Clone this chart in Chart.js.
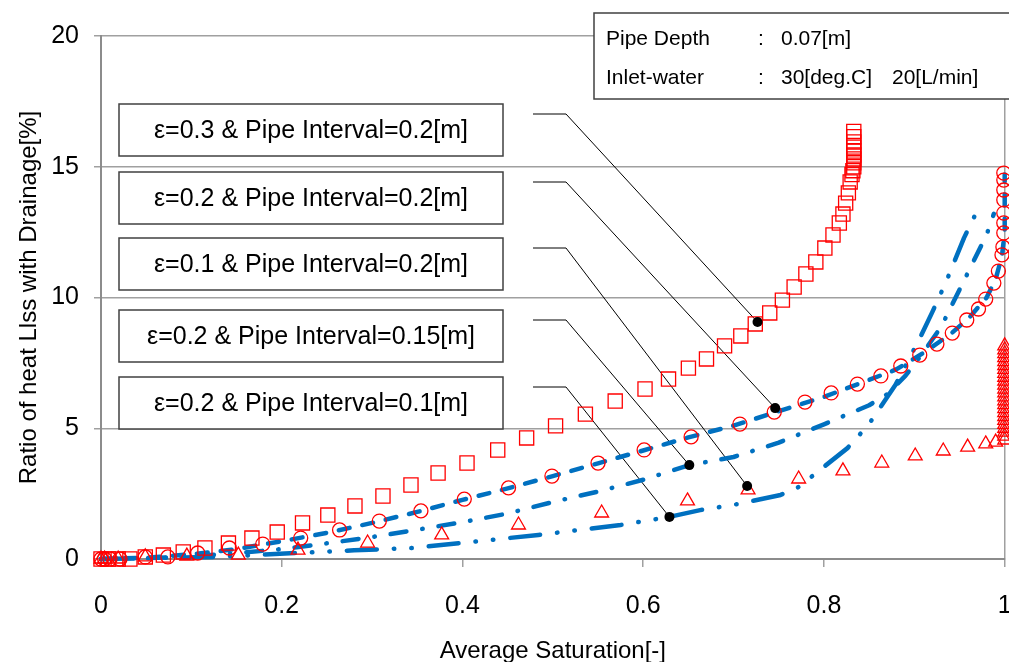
<!DOCTYPE html>
<html>
<head>
<meta charset="utf-8">
<script src="https://cdn.jsdelivr.net/npm/chart.js@4"></script>
<style>
  html, body { margin: 0; padding: 0; background: #fff; overflow: hidden; }
  canvas { display: block; }
</style>
</head>
<body>
<canvas id="myChart" width="1016" height="662"></canvas>
<script>
// eps=0.3, interval 0.2 (squares)
const sat03 = [0, 0.008, 0.019, 0.032, 0.049, 0.069, 0.091, 0.115, 0.141, 0.167, 0.195, 0.223, 0.251, 0.281, 0.312, 0.343, 0.373, 0.405, 0.439, 0.471, 0.503, 0.536, 0.569, 0.602, 0.628, 0.650, 0.670, 0.690, 0.708, 0.724, 0.740, 0.754, 0.767, 0.780, 0.791, 0.801, 0.810, 0.817, 0.821, 0.824, 0.827, 0.829, 0.831, 0.832, 0.833, 0.833, 0.833, 0.833, 0.833, 0.833, 0.833, 0.833, 0.833];
const ratio03 = [0, 0, 0, 0, 0.08, 0.15, 0.27, 0.42, 0.61, 0.80, 1.03, 1.38, 1.68, 2.03, 2.41, 2.83, 3.29, 3.67, 4.17, 4.63, 5.09, 5.54, 6.04, 6.50, 6.88, 7.30, 7.65, 8.15, 8.53, 8.99, 9.41, 9.90, 10.40, 10.90, 11.36, 11.89, 12.39, 12.85, 13.19, 13.61, 14.00, 14.42, 14.70, 14.85, 15.00, 15.15, 15.30, 15.45, 15.60, 15.75, 15.95, 16.15, 16.35];

// eps=0.2, interval 0.2 (circles)
const sat02 = [0, 0.004, 0.010, 0.021, 0.049, 0.074, 0.107, 0.142, 0.179, 0.221, 0.264, 0.308, 0.354, 0.402, 0.451, 0.499, 0.550, 0.601, 0.653, 0.707, 0.745, 0.779, 0.808, 0.837, 0.863, 0.885, 0.906, 0.925, 0.942, 0.958, 0.971, 0.979, 0.988, 0.993, 0.997, 0.998, 0.999, 0.999, 0.999, 0.999, 0.999, 0.999, 0.999];
const ratio02 = [0, 0, 0, 0, 0.08, 0.08, 0.23, 0.42, 0.57, 0.80, 1.11, 1.45, 1.84, 2.29, 2.72, 3.17, 3.67, 4.17, 4.67, 5.16, 5.62, 6.00, 6.35, 6.69, 7.00, 7.38, 7.80, 8.22, 8.64, 9.14, 9.56, 9.94, 10.55, 11.01, 11.63, 11.93, 12.47, 12.85, 13.23, 13.73, 14.11, 14.49, 14.76];

// eps=0.1, interval 0.2 (triangles)
const sat01 = [0, 0.004, 0.019, 0.049, 0.095, 0.152, 0.218, 0.295, 0.377, 0.462, 0.554, 0.649, 0.716, 0.772, 0.821, 0.864, 0.901, 0.932, 0.959, 0.979, 0.990, 1, 1, 1, 1, 1, 1, 1, 1, 1, 1, 1, 1, 1, 1, 1, 1, 1, 1, 1, 1, 1, 1, 1, 1, 1];
const ratio01 = [0, 0, 0, 0.08, 0.11, 0.15, 0.34, 0.61, 0.92, 1.30, 1.76, 2.22, 2.64, 3.06, 3.37, 3.67, 3.94, 4.13, 4.28, 4.40, 4.47, 4.55, 4.70, 4.85, 5.00, 5.15, 5.30, 5.45, 5.60, 5.75, 5.90, 6.05, 6.20, 6.35, 6.50, 6.65, 6.80, 6.95, 7.10, 7.25, 7.40, 7.55, 7.70, 7.85, 8.00, 8.15];

// blue lines
const satLine02 = [0, 0.05, 0.1, 0.15, 0.2, 0.25, 0.3, 0.35, 0.4, 0.45, 0.5, 0.55, 0.6, 0.65, 0.7, 0.75, 0.8, 0.85, 0.88, 0.91, 0.94, 0.96, 0.98, 0.99, 0.997, 1.0, 1.0];
const ratioLine02 = [0, 0.05, 0.18, 0.38, 0.68, 1.0, 1.38, 1.8, 2.26, 2.7, 3.17, 3.66, 4.15, 4.65, 5.1, 5.65, 6.2, 6.85, 7.25, 7.88, 8.6, 9.2, 10.0, 10.7, 11.6, 12.5, 14.7];

const satLine015 = [0, 0.05, 0.1, 0.15, 0.2, 0.25, 0.3, 0.348, 0.4, 0.45, 0.5, 0.55, 0.6, 0.651, 0.7, 0.75, 0.8, 0.85, 0.87, 0.89, 0.91, 0.93, 0.95, 0.96, 0.97, 0.98, 0.988];
const ratioLine015 = [0, 0.03, 0.1, 0.22, 0.38, 0.6, 0.84, 1.11, 1.41, 1.74, 2.18, 2.58, 3.03, 3.59, 3.9, 4.45, 5.15, 5.88, 6.3, 7.0, 7.9, 8.9, 10.3, 11.0, 11.7, 12.4, 13.2];

const satLine01 = [0, 0.128, 0.217, 0.28, 0.344, 0.398, 0.484, 0.575, 0.629, 0.663, 0.700, 0.752, 0.769, 0.783, 0.826, 0.849, 0.879, 0.905, 0.920, 0.935, 0.955, 0.971];
const ratioLine01 = [0, 0.08, 0.23, 0.33, 0.42, 0.61, 0.92, 1.30, 1.61, 1.87, 2.07, 2.45, 2.68, 3.06, 4.24, 5.12, 6.65, 8.37, 9.45, 10.59, 12.28, 13.42];

// callouts
const calloutLabels = [
  "ε=0.3 & Pipe Interval=0.2[m]",
  "ε=0.2 & Pipe Interval=0.2[m]",
  "ε=0.1 & Pipe Interval=0.2[m]",
  "ε=0.2 & Pipe Interval=0.15[m]",
  "ε=0.2 & Pipe Interval=0.1[m]",
];
const calloutSat = [0.7265, 0.746, 0.715, 0.651, 0.629];
const calloutRatio = [9.06, 5.77, 2.79, 3.59, 1.61];

const xTicks = [0, 0.2, 0.4, 0.6, 0.8, 1];
const yTicks = [0, 5, 10, 15, 20];

const FONT = "'Liberation Sans', Arial, sans-serif";
const RED = "rgb(255,0,0)";
const BLUE = "rgb(0,112,192)";

const toPoints = (xs, ys) => xs.map((x, i) => ({ x: x, y: ys[i] }));

const markerSet = (label, xs, ys, style, radius, order) => ({
  label: label,
  data: toPoints(xs, ys),
  pointStyle: style,
  pointRadius: radius,
  pointBorderColor: RED,
  pointBackgroundColor: "rgba(0,0,0,0)",
  pointBorderWidth: 1.3,
  showLine: false,
  clip: false,
  order: order,
});

const lineSet = (label, xs, ys, dash, order) => ({
  label: label,
  data: toPoints(xs, ys),
  showLine: true,
  pointRadius: 0,
  borderColor: BLUE,
  borderWidth: 4.5,
  borderDash: dash,
  borderCapStyle: "round",
  borderJoinStyle: "round",
  tension: 0,
  clip: false,
  order: order,
});

const boxTops = [104, 172, 238, 310, 377];
const leaderY = [114, 182, 248, 320, 387];

const overlay = {
  id: "overlay",
  beforeDatasetsDraw(chart) {
    const ctx = chart.ctx;
    const xs = chart.scales.x, ys = chart.scales.y;
    ctx.save();
    ctx.strokeStyle = "#000";
    ctx.lineWidth = 1;
    calloutSat.forEach((s, i) => {
      ctx.beginPath();
      ctx.moveTo(533, leaderY[i]);
      ctx.lineTo(566, leaderY[i]);
      ctx.lineTo(xs.getPixelForValue(s), ys.getPixelForValue(calloutRatio[i]));
      ctx.stroke();
    });
    ctx.restore();
  },
  afterDraw(chart) {
    const ctx = chart.ctx;
    const area = chart.chartArea;
    ctx.save();
    // label boxes
    ctx.font = "25px " + FONT;
    ctx.textAlign = "center";
    ctx.textBaseline = "middle";
    calloutLabels.forEach((t, i) => {
      ctx.fillStyle = "#fff";
      ctx.fillRect(119, boxTops[i], 384, 52);
      ctx.strokeStyle = "#404040";
      ctx.lineWidth = 1.5;
      ctx.strokeRect(119, boxTops[i], 384, 52);
      ctx.fillStyle = "#000";
      ctx.fillText(t, 311, boxTops[i] + 27);
    });
    // info box
    ctx.fillStyle = "#fff";
    ctx.fillRect(594, 13, 430, 86);
    ctx.strokeStyle = "#404040";
    ctx.strokeRect(594, 13, 430, 86);
    ctx.fillStyle = "#000";
    ctx.font = "21px " + FONT;
    ctx.textAlign = "left";
    ctx.fillText("Pipe Depth", 606, 39);
    ctx.fillText(":", 758, 39);
    ctx.fillText("0.07[m]", 781, 39);
    ctx.fillText("Inlet-water", 606, 78);
    ctx.fillText(":", 758, 78);
    ctx.fillText("30[deg.C]", 781, 78);
    ctx.fillText("20[L/min]", 892, 78);
    // axis titles
    ctx.font = "24px " + FONT;
    ctx.textAlign = "center";
    ctx.fillText("Average Saturation[-]", (area.left + area.right) / 2, 651);
    ctx.translate(29, (area.top + area.bottom) / 2);
    ctx.rotate(-Math.PI / 2);
    ctx.fillText("Ratio of heat Llss with Drainage[%]", 0, 0);
    ctx.restore();
  },
};

const data = {
  datasets: [
    {
      label: "callout",
      data: toPoints(calloutSat, calloutRatio),
      pointRadius: 5,
      pointBackgroundColor: "#000",
      pointBorderColor: "#000",
      pointBorderWidth: 0,
      showLine: false,
      clip: false,
      order: 0,
    },
    markerSet(calloutLabels[0], sat03, ratio03, "rect", 10, 1),
    markerSet(calloutLabels[1], sat02, ratio02, "circle", 7, 2),
    markerSet(calloutLabels[2], sat01, ratio01, "triangle", 8, 3),
    lineSet("line 0.2", satLine02, ratioLine02, [11, 13], 4),
    lineSet("line 0.15", satLine015, ratioLine015, [16, 16, 0.5, 16], 5),
    lineSet("line 0.1", satLine01, ratioLine01, [30, 17, 0.5, 17, 0.5, 17], 6),
  ],
};

const options = {
  responsive: false,
  animation: false,
  devicePixelRatio: 1,
  layout: { padding: { top: 36, right: 5, left: 0, bottom: 0 } },
  plugins: {
    legend: { display: false },
    tooltip: { enabled: false },
  },
  scales: {
    x: {
      type: "linear",
      min: 0,
      max: 1,
      afterBuildTicks: (s) => { s.ticks = xTicks.map((v) => ({ value: v })); },
      ticks: {
        color: "#000",
        font: { family: FONT, size: 25 },
        padding: 24,
        maxRotation: 0,
        callback: (v) => String(Number(v.toFixed(1))),
      },
      grid: {
        color: (c) => (c.tick && c.tick.value === 1 ? "#a0a0a0" : "rgba(0,0,0,0)"),
        tickColor: "#a0a0a0",
        lineWidth: 1.5,
        tickLength: 8,
      },
      border: { color: "#8c8c8c", width: 2 },
      afterFit: (s) => { s.height = 103; s.paddingLeft = 0; s.paddingRight = 0; },
    },
    y: {
      type: "linear",
      min: 0,
      max: 20,
      afterBuildTicks: (s) => { s.ticks = yTicks.map((v) => ({ value: v })); },
      ticks: {
        color: "#000",
        font: { family: FONT, size: 25 },
        padding: 15,
      },
      grid: {
        color: "#a0a0a0",
        tickColor: "#a0a0a0",
        lineWidth: 1.5,
        tickLength: 7,
      },
      border: { color: "#8c8c8c", width: 2 },
      afterFit: (s) => { s.width = 101; s.paddingTop = 0; s.paddingBottom = 0; },
    },
  },
};

new Chart(document.getElementById("myChart"), {
  type: "scatter",
  data: data,
  options: options,
  plugins: [overlay],
});
</script>
</body>
</html>
